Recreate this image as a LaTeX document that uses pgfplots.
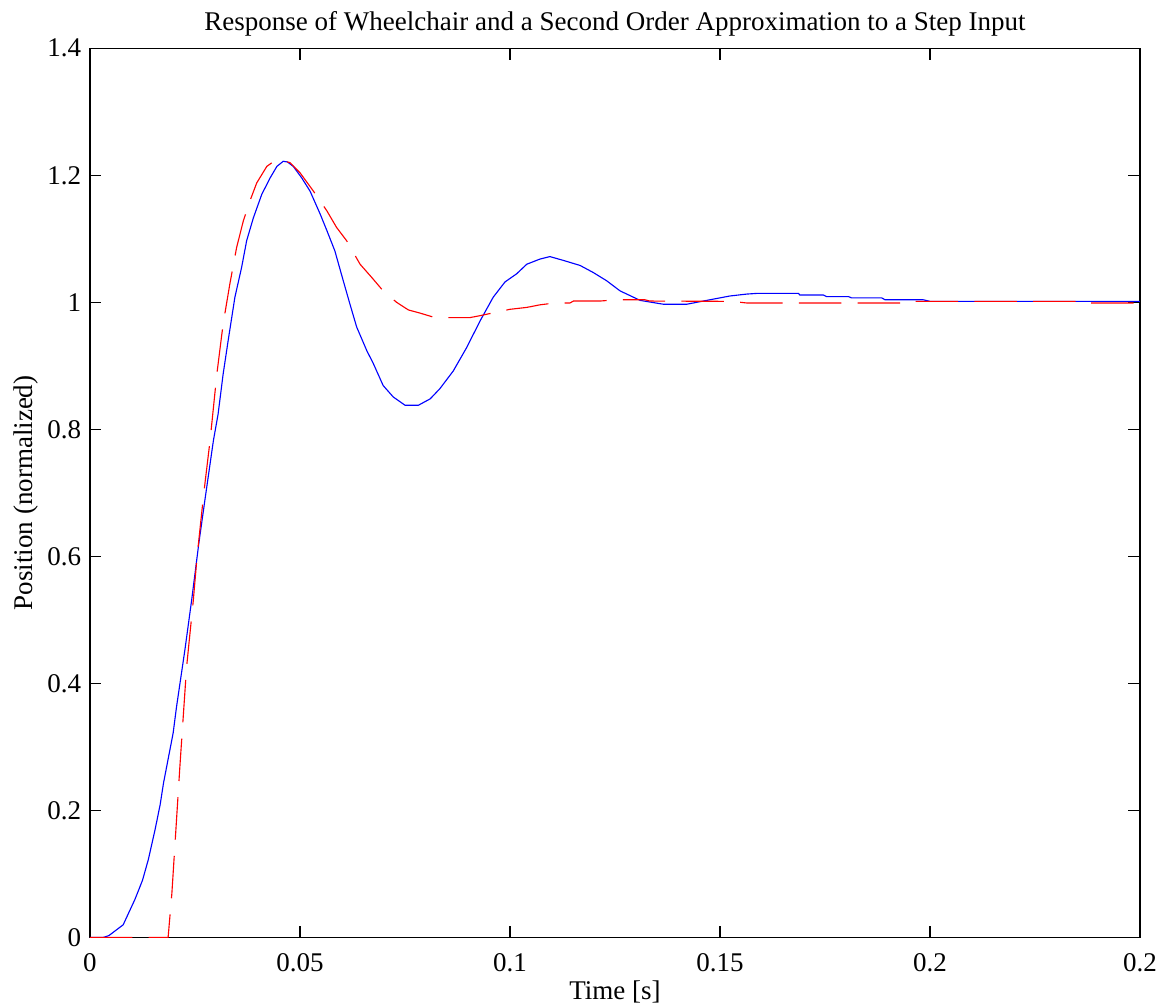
\documentclass[border=0pt]{standalone}
\usepackage{fontspec}
\setmainfont{Liberation Serif}
\usepackage{pgfplots}
\pgfplotsset{compat=1.18}
\begin{document}
\begin{tikzpicture}
\path[use as bounding box] (-36pt,-27.4pt) rectangle (428.4pt,375pt);
\begin{axis}[
  at={(0,0)}, anchor=south west,
  scale only axis, width=420pt, height=355.7pt,
  xmin=0, xmax=0.25, ymin=0, ymax=1.4,
  xtick={0,0.05,0.1,0.15,0.2,0.25},
  xticklabels={0,0.05,0.1,0.15,0.2,0.2},
  ytick={0,0.2,0.4,0.6,0.8,1,1.2,1.4},
  yticklabels={0,0.2,0.4,0.6,0.8,1,1.2,1.4},
  major tick length=4.6pt,
  tick style={black, line width=0.5pt},
  axis line style={black, line width=0.5pt},
  tick align=inside,
  /pgf/number format/assume math mode=true,
  tick label style={font=\fontsize{10.8pt}{13pt}\selectfont},
  xticklabel style={yshift=-2.8pt},
  every axis title shift=0pt,
  title={Response of Wheelchair and a Second Order Approximation to a Step Input},
  title style={font=\fontsize{10.8pt}{13pt}\selectfont, at={(axis description cs:0.5,1)}, anchor=base, yshift=7pt},
  xlabel={Time [s]},
  xlabel style={font=\fontsize{10.8pt}{13pt}\selectfont, at={(axis description cs:0.5,0)}, anchor=base, yshift=-25pt},
  ylabel={Position (normalized)},
  ylabel style={font=\fontsize{10.8pt}{13pt}\selectfont, at={(axis description cs:-0.0543,0.5)}, anchor=base},
]
\addplot[color={rgb,255:red,0;green,0;blue,255}, line width=0.45pt] coordinates {
(0,0) (0.0031,0) (0.0045,0.003) (0.0079,0.020) (0.0107,0.060) (0.0125,0.090)
(0.0139,0.123) (0.0155,0.170) (0.0167,0.209) (0.0175,0.243) (0.0198,0.322)
(0.0206,0.363) (0.0226,0.453) (0.0242,0.531) (0.0259,0.620) (0.0276,0.700)
(0.0294,0.783) (0.0305,0.824) (0.0317,0.887) (0.0329,0.940) (0.0345,1.008)
(0.0361,1.055) (0.0373,1.097) (0.0389,1.133) (0.0409,1.170) (0.0429,1.196)
(0.0445,1.214) (0.0460,1.222) (0.0470,1.221) (0.0484,1.214) (0.0504,1.196)
(0.0524,1.175) (0.0548,1.139) (0.0564,1.113) (0.0583,1.081) (0.0603,1.034)
(0.0619,0.997) (0.0635,0.961) (0.0659,0.924) (0.0675,0.903) (0.0698,0.869)
(0.0722,0.851) (0.0750,0.838) (0.0782,0.838) (0.0810,0.848) (0.0833,0.864)
(0.0865,0.892) (0.0897,0.929) (0.0929,0.971) (0.0960,1.008) (0.0988,1.032)
(0.1016,1.045) (0.1040,1.060) (0.1071,1.068) (0.1095,1.072) (0.1127,1.066)
(0.1167,1.058) (0.1198,1.047) (0.1230,1.034) (0.1262,1.018) (0.1310,1.003)
(0.1365,0.997) (0.1421,0.997) (0.1468,1.003) (0.1524,1.010) (0.1564,1.013)
(0.1587,1.014) (0.1687,1.014) (0.1690,1.0115) (0.1746,1.0115) (0.1754,1.009)
(0.1806,1.009) (0.1813,1.007) (0.1885,1.007) (0.1893,1.004) (0.1984,1.004)
(0.2000,1.0015) (0.2500,1.0015)
};
\addplot[color={rgb,255:red,255;green,0;blue,0}, line width=0.45pt, dash pattern=on 17pt off 6.5pt] coordinates {
(0,0) (0.0186,0) (0.0195,0.070) (0.0214,0.269) (0.0230,0.426) (0.0246,0.531)
(0.0255,0.600) (0.0271,0.700) (0.0286,0.783) (0.0302,0.887) (0.0317,0.966)
(0.0333,1.029) (0.0349,1.086) (0.0365,1.128) (0.0381,1.160) (0.0397,1.188)
(0.0421,1.214) (0.0440,1.223) (0.0452,1.224) (0.0476,1.220) (0.0500,1.204)
(0.0532,1.175) (0.0564,1.144) (0.0587,1.118) (0.0611,1.097) (0.0643,1.060)
(0.0671,1.039) (0.0698,1.018) (0.0730,1.000) (0.0758,0.988) (0.0786,0.983)
(0.0821,0.976) (0.0905,0.976) (0.0929,0.979) (0.0964,0.984) (0.1000,0.989)
(0.1040,0.992) (0.1071,0.996) (0.1107,0.999) (0.1143,0.999) (0.1151,1.002)
(0.1214,1.002) (0.1254,1.004) (0.1321,1.004) (0.1333,1.002) (0.1528,1.0015)
(0.1563,0.999) (0.1960,0.999) (0.1964,1.0015) (0.2357,1.0015) (0.2360,0.999)
(0.2500,0.999)
};
\end{axis}
\end{tikzpicture}
\end{document}
